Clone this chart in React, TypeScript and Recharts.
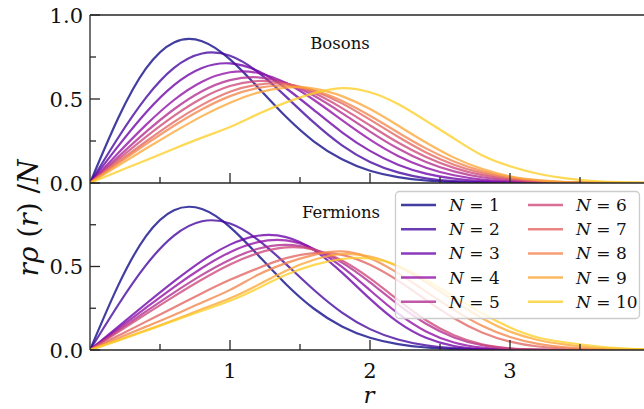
import React from 'react';
import { LineChart, Line, XAxis, YAxis } from 'recharts';

// radial grid r
const rValues = [0, 0.2, 0.4, 0.6, 0.8, 1.0, 1.2, 1.4, 1.6, 1.8, 2.0, 2.2, 2.4, 2.6, 2.8, 3.0, 3.2, 3.4, 3.6, 3.8, 4.0];

// Bosons: r*rho(r)/N
const bosonN1 = [0, 0.384, 0.682, 0.837, 0.844, 0.736, 0.569, 0.394, 0.247, 0.141, 0.073, 0.035, 0.015, 0.006, 0.002, 0.001, 0, 0, 0, 0, 0];
const bosonN2 = [0, 0.268, 0.508, 0.685, 0.771, 0.757, 0.660, 0.514, 0.359, 0.224, 0.125, 0.063, 0.028, 0.011, 0.004, 0.001, 0, 0, 0, 0, 0];
const bosonN3 = [0, 0.218, 0.420, 0.583, 0.685, 0.712, 0.666, 0.564, 0.434, 0.302, 0.191, 0.109, 0.056, 0.026, 0.011, 0.004, 0.001, 0, 0, 0, 0];
const bosonN4 = [0, 0.177, 0.346, 0.494, 0.603, 0.659, 0.655, 0.595, 0.494, 0.374, 0.258, 0.161, 0.091, 0.046, 0.021, 0.008, 0.003, 0.001, 0, 0, 0];
const bosonN5 = [0, 0.154, 0.304, 0.439, 0.546, 0.612, 0.629, 0.595, 0.519, 0.416, 0.306, 0.205, 0.125, 0.069, 0.034, 0.015, 0.006, 0.002, 0.001, 0, 0];
const bosonN6 = [0, 0.139, 0.275, 0.400, 0.505, 0.577, 0.607, 0.592, 0.535, 0.446, 0.343, 0.241, 0.155, 0.090, 0.047, 0.022, 0.009, 0.004, 0.001, 0, 0];
const bosonN7 = [0, 0.125, 0.247, 0.364, 0.465, 0.543, 0.586, 0.588, 0.548, 0.474, 0.377, 0.275, 0.182, 0.109, 0.059, 0.028, 0.012, 0.004, 0.001, 0, 0];
const bosonN8 = [0, 0.116, 0.231, 0.341, 0.439, 0.517, 0.566, 0.578, 0.551, 0.488, 0.400, 0.301, 0.206, 0.128, 0.071, 0.035, 0.015, 0.006, 0.002, 0.001, 0];
const bosonN9 = [0, 0.103, 0.205, 0.304, 0.398, 0.478, 0.538, 0.568, 0.562, 0.517, 0.440, 0.342, 0.241, 0.151, 0.084, 0.040, 0.017, 0.006, 0.002, 0, 0];
const bosonN10 = [0, 0.068, 0.136, 0.204, 0.270, 0.333, 0.410, 0.480, 0.535, 0.565, 0.540, 0.470, 0.370, 0.265, 0.165, 0.100, 0.055, 0.027, 0.012, 0.005, 0.002];

// Fermions: r*rho(r)/N
const fermionN1 = [0, 0.384, 0.682, 0.837, 0.844, 0.736, 0.569, 0.394, 0.247, 0.141, 0.073, 0.035, 0.015, 0.006, 0.002, 0.001, 0, 0, 0, 0, 0];
const fermionN2 = [0, 0.268, 0.508, 0.685, 0.771, 0.757, 0.660, 0.514, 0.359, 0.224, 0.125, 0.063, 0.028, 0.011, 0.004, 0.001, 0, 0, 0, 0, 0];
const fermionN3 = [0, 0.139, 0.277, 0.411, 0.534, 0.631, 0.684, 0.676, 0.598, 0.463, 0.306, 0.167, 0.073, 0.024, 0.006, 0.001, 0, 0, 0, 0, 0];
const fermionN4 = [0, 0.127, 0.253, 0.377, 0.491, 0.586, 0.646, 0.656, 0.605, 0.498, 0.358, 0.219, 0.111, 0.045, 0.014, 0.003, 0.001, 0, 0, 0, 0];
const fermionN5 = [0, 0.116, 0.231, 0.344, 0.450, 0.541, 0.606, 0.629, 0.602, 0.523, 0.405, 0.273, 0.157, 0.075, 0.029, 0.009, 0.002, 0, 0, 0, 0];
const fermionN6 = [0, 0.108, 0.215, 0.321, 0.422, 0.512, 0.580, 0.614, 0.601, 0.536, 0.429, 0.300, 0.178, 0.088, 0.034, 0.010, 0.002, 0, 0, 0, 0];
const fermionN7 = [0, 0.085, 0.170, 0.255, 0.340, 0.420, 0.490, 0.550, 0.580, 0.570, 0.510, 0.415, 0.300, 0.190, 0.105, 0.050, 0.021, 0.008, 0.003, 0.001, 0];
const fermionN8 = [0, 0.070, 0.140, 0.210, 0.285, 0.360, 0.450, 0.520, 0.570, 0.590, 0.550, 0.460, 0.350, 0.240, 0.145, 0.078, 0.037, 0.016, 0.006, 0.002, 0.001];
const fermionN9 = [0, 0.058, 0.118, 0.180, 0.245, 0.310, 0.390, 0.475, 0.540, 0.575, 0.560, 0.500, 0.405, 0.295, 0.190, 0.110, 0.060, 0.032, 0.014, 0.006, 0.002];
const fermionN10 = [0, 0.056, 0.115, 0.175, 0.235, 0.295, 0.370, 0.450, 0.510, 0.545, 0.548, 0.505, 0.420, 0.320, 0.220, 0.135, 0.075, 0.045, 0.024, 0.010, 0.004];

const particleNumbers = [1, 2, 3, 4, 5, 6, 7, 8, 9, 10];
const seriesColors = ['#0d0887', '#41049d', '#6a00a8', '#8f0da4', '#b12a90', '#cc4778', '#e16462', '#f2844b', '#fca636', '#fcce25'];
const xTicks = [0.5, 1, 1.5, 2, 2.5, 3, 3.5];
const yTicksTop = [0, 0.25, 0.5, 0.75, 1];
const yTicksBottom = [0, 0.25, 0.5, 0.75];

const bosonSeries = [bosonN1, bosonN2, bosonN3, bosonN4, bosonN5, bosonN6, bosonN7, bosonN8, bosonN9, bosonN10];
const fermionSeries = [fermionN1, fermionN2, fermionN3, fermionN4, fermionN5, fermionN6, fermionN7, fermionN8, fermionN9, fermionN10];

const buildRows = (series: number[][]) =>
  rValues.map((r, i) => {
    const row: Record<string, number> = { r };
    series.forEach((s, k) => {
      row['n' + particleNumbers[k]] = s[i];
    });
    return row;
  });

const bosonRows = buildRows(bosonSeries);
const fermionRows = buildRows(fermionSeries);

const FONT = "'DejaVu Serif', serif";
const AXIS = '#262626';
const X_MAX = 3.957;
const LINE_OPACITY = 0.78;

const makeXTick = (labels: boolean) => (props: any) => {
  const { x, y, payload } = props;
  const v = payload.value as number;
  const major = Math.abs(v - Math.round(v)) < 1e-6;
  return (
    <g>
      <line x1={x} x2={x} y1={y} y2={y - (major ? 10 : 6)} stroke={AXIS} strokeWidth={1.3} />
      {labels && major ? (
        <text x={x} y={y + 28} textAnchor="middle" fontFamily={FONT} fontSize={21} fill="#111">
          {String(v)}
        </text>
      ) : null}
    </g>
  );
};

const makeYTick = (labeled: number[]) => (props: any) => {
  const { x, y, payload } = props;
  const v = payload.value as number;
  const major = Math.abs(v * 2 - Math.round(v * 2)) < 1e-6;
  const show = labeled.some((l) => Math.abs(l - v) < 1e-6);
  return (
    <g>
      <line x1={x} x2={x + (major ? 10 : 6)} y1={y} y2={y} stroke={AXIS} strokeWidth={1.3} />
      {show ? (
        <text x={x - 7} y={y + 7.6} textAnchor="end" fontFamily={FONT} fontSize={21} fill="#111">
          {v.toFixed(1)}
        </text>
      ) : null}
    </g>
  );
};

const renderLines = () =>
  particleNumbers.map((n, k) => (
    <Line
      key={n}
      type="natural"
      dataKey={'n' + n}
      stroke={seriesColors[k]}
      strokeOpacity={LINE_OPACITY}
      strokeWidth={2.2}
      dot={false}
      activeDot={false}
      isAnimationActive={false}
    />
  ));

const Legend = () => {
  const rowsY = [205, 229.2, 253.4, 277.6, 301.8];
  return (
    <g>
      <rect x={395.5} y={191.5} width={244} height={127} rx={4} ry={4} fill="#ffffff" fillOpacity={0.8} stroke="#cccccc" strokeWidth={1.3} />
      {particleNumbers.map((n, k) => {
        const col = k < 5 ? 0 : 1;
        const row = k % 5;
        const lx = col === 0 ? 401 : 528;
        const ty = rowsY[row];
        return (
          <g key={n}>
            <line x1={lx} x2={lx + 35} y1={ty} y2={ty} stroke={seriesColors[k]} strokeOpacity={LINE_OPACITY} strokeWidth={2.5} />
            <text x={lx + 48} y={ty + 6} fontFamily={FONT} fontSize={17} fill="#111">
              <tspan fontStyle="italic">N</tspan>
              <tspan> = {n}</tspan>
            </text>
          </g>
        );
      })}
    </g>
  );
};

export default function App() {
  return (
    <div style={{ position: 'absolute', left: 0, top: 0, width: 644, height: 409, background: '#fff', overflow: 'hidden' }}>
      <div style={{ position: 'absolute', left: 0, top: 0 }}>
        <LineChart width={644} height={203} data={bosonRows} margin={{ top: 15, right: 0, bottom: 0, left: 0 }}>
          <XAxis
            dataKey="r"
            type="number"
            domain={[0, X_MAX]}
            allowDataOverflow
            ticks={xTicks}
            interval={0}
            height={20}
            tickSize={0}
            tickMargin={0}
            tickLine={false}
            axisLine={{ stroke: AXIS, strokeWidth: 1.3 }}
            tick={makeXTick(false)}
          />
          <YAxis
            type="number"
            domain={[0, 1]}
            allowDataOverflow
            ticks={yTicksTop}
            interval={0}
            width={90}
            tickSize={0}
            tickMargin={0}
            tickLine={false}
            axisLine={{ stroke: AXIS, strokeWidth: 1.3 }}
            tick={makeYTick([0, 0.5, 1])}
          />
          {renderLines()}
        </LineChart>
      </div>
      <div style={{ position: 'absolute', left: 0, top: 0 }}>
        <LineChart width={644} height={409} data={fermionRows} margin={{ top: 183, right: 0, bottom: 19, left: 0 }}>
          <XAxis
            dataKey="r"
            type="number"
            domain={[0, X_MAX]}
            allowDataOverflow
            ticks={xTicks}
            interval={0}
            height={40}
            tickSize={0}
            tickMargin={0}
            tickLine={false}
            axisLine={{ stroke: AXIS, strokeWidth: 1.3 }}
            tick={makeXTick(true)}
          />
          <YAxis
            type="number"
            domain={[0, 1]}
            allowDataOverflow
            ticks={yTicksBottom}
            interval={0}
            width={90}
            tickSize={0}
            tickMargin={0}
            tickLine={false}
            axisLine={{ stroke: AXIS, strokeWidth: 1.3 }}
            tick={makeYTick([0, 0.5])}
          />
          {renderLines()}
        </LineChart>
      </div>
      <svg width={644} height={409} style={{ position: 'absolute', left: 0, top: 0, pointerEvents: 'none' }}>
        <line x1={90} x2={644} y1={15} y2={15} stroke={AXIS} strokeWidth={1.3} />
        <text x={340} y={49} textAnchor="middle" fontFamily={FONT} fontSize={16.5} fill="#111">Bosons</text>
        <text x={341} y={218} textAnchor="middle" fontFamily={FONT} fontSize={16.5} fill="#111">Fermions</text>
        <Legend />
        <text x={369} y={403} textAnchor="middle" fontFamily={FONT} fontSize={23} fontStyle="italic" fill="#111">r</text>
        <text
          transform="translate(38, 218) rotate(-90)"
          textAnchor="middle"
          fontFamily={FONT}
          fontSize={28}
          fill="#111"
        >
          <tspan fontStyle="italic">rρ</tspan>
          <tspan> (</tspan>
          <tspan fontStyle="italic">r</tspan>
          <tspan>) /</tspan>
          <tspan fontStyle="italic">N</tspan>
        </text>
      </svg>
    </div>
  );
}
